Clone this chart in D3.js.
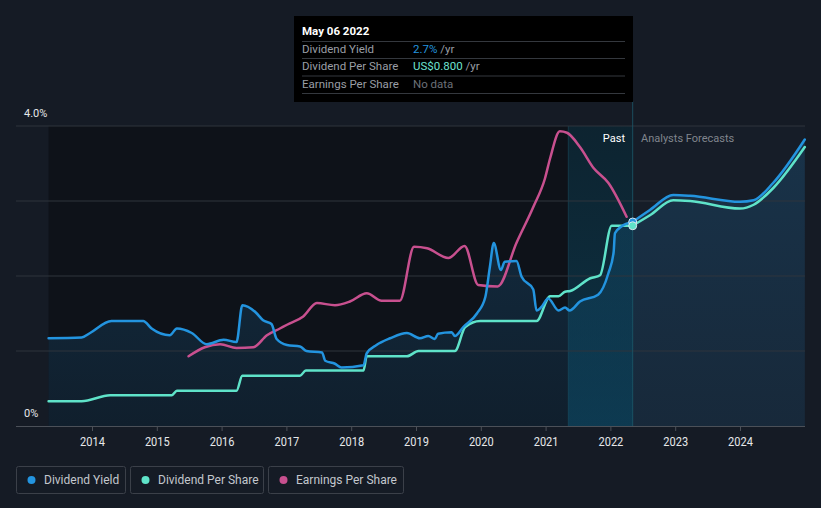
<!DOCTYPE html>
<html>
<head>
<meta charset="utf-8">
<script src="https://cdn.jsdelivr.net/npm/d3@7"></script>
<style>
  html, body { margin: 0; padding: 0; background: #151b25; }
  svg { display: block; font-family: Roboto, "Noto Sans", sans-serif; }
</style>
</head>
<body>
<div id="chart"></div>
<script>
// decimal years, values on the yield axis (%)
const dyYears = [2013.33, 2013.84, 2013.97, 2014.30, 2014.79, 2014.92, 2015.20, 2015.31, 2015.54, 2015.77,
  2016.03, 2016.23, 2016.32, 2016.52, 2016.64, 2016.77, 2016.85, 2017.01, 2017.21, 2017.31,
  2017.55, 2017.60, 2017.75, 2017.85, 2018.19, 2018.24, 2018.39, 2018.60, 2018.86, 2019.06,
  2019.19, 2019.29, 2019.34, 2019.55, 2019.60, 2019.73, 2019.94, 2020.07, 2020.14, 2020.20,
  2020.31, 2020.37, 2020.55, 2020.63, 2020.81, 2020.86, 2020.94, 2021.04, 2021.20, 2021.30,
  2021.37, 2021.53, 2021.81, 2021.97, 2022.05, 2022.07, 2022.17, 2022.34];
const dyValues = [1.17, 1.18, 1.24, 1.40, 1.40, 1.30, 1.21, 1.30, 1.24, 1.09,
  1.15, 1.12, 1.61, 1.52, 1.41, 1.36, 1.16, 1.08, 1.06, 1.00,
  0.98, 0.87, 0.83, 0.78, 0.81, 0.97, 1.08, 1.17, 1.24, 1.17,
  1.20, 1.16, 1.23, 1.25, 1.20, 1.32, 1.50, 1.72, 2.12, 2.44,
  2.08, 2.19, 2.20, 1.99, 1.82, 1.54, 1.59, 1.70, 1.54, 1.58,
  1.54, 1.66, 1.75, 2.04, 2.32, 2.57, 2.66, 2.72];
const dyForecastYears = [2022.34, 2022.61, 2022.97, 2023.23, 2024.00, 2024.21, 2024.51, 2025.00];
const dyForecastValues = [2.72, 2.88, 3.08, 3.07, 2.99, 3.01, 3.24, 3.82];

const dpsYears = [2013.33, 2013.84, 2014.28, 2015.23, 2015.31, 2016.23, 2016.32, 2017.21, 2017.30, 2018.19,
  2018.24, 2018.86, 2019.04, 2019.60, 2019.76, 2019.99, 2020.86, 2021.07, 2021.20, 2021.30,
  2021.38, 2021.69, 2021.84, 2022.02, 2022.30, 2022.34];
const dpsValues = [0.33, 0.33, 0.41, 0.41, 0.47, 0.47, 0.67, 0.67, 0.74, 0.74,
  0.93, 0.93, 1.00, 1.00, 1.32, 1.40, 1.40, 1.73, 1.73, 1.79,
  1.80, 1.97, 2.01, 2.67, 2.67, 2.67];
const dpsForecastYears = [2022.34, 2022.61, 2022.97, 2023.23, 2024.00, 2024.21, 2024.51, 2025.00];
const dpsForecastValues = [2.67, 2.81, 3.01, 3.00, 2.90, 2.95, 3.17, 3.72];

const epsYears = [2015.49, 2015.74, 2015.98, 2016.23, 2016.49, 2016.70, 2016.90, 2017.01, 2017.26, 2017.47,
  2017.75, 2017.98, 2018.24, 2018.47, 2018.75, 2018.97, 2019.17, 2019.50, 2019.75, 2019.96,
  2020.26, 2020.55, 2020.81, 2020.99, 2021.07, 2021.22, 2021.33, 2021.53, 2021.74, 2021.97, 2022.25];
const epsValues = [0.93, 1.05, 1.09, 1.04, 1.05, 1.21, 1.30, 1.35, 1.46, 1.64,
  1.61, 1.66, 1.77, 1.67, 1.67, 2.39, 2.37, 2.24, 2.40, 1.88,
  1.86, 2.44, 2.92, 3.30, 3.57, 3.93, 3.91, 3.72, 3.44, 3.24, 2.79];

const yearTicks = [2014, 2015, 2016, 2017, 2018, 2019, 2020, 2021, 2022, 2023, 2024];
const yTicks = [0, 1, 2, 3, 4];
const pastStart = 2021.35;
const nowYear = 2022.344;

const width = 821, height = 508;
const svg = d3.select("#chart").append("svg").attr("width", width).attr("height", height);

const x = d3.scaleLinear().domain([2014, 2024]).range([92, 740]);
const y = d3.scaleLinear().domain([0, 4]).range([426, 126]);
const x1 = x.invert(805);

const zip = (xs, ys) => xs.map((v, i) => ({ t: v, v: ys[i] }));
const dy = zip(dyYears, dyValues);
const dyF = zip(dyForecastYears, dyForecastValues);
const dps = zip(dpsYears, dpsValues);
const dpsF = zip(dpsForecastYears, dpsForecastValues);
const eps = zip(epsYears, epsValues);

const defs = svg.append("defs");
const pg = defs.append("linearGradient").attr("id", "pastG").attr("x1", 0).attr("y1", 0).attr("x2", 0).attr("y2", 1);
pg.append("stop").attr("offset", "0%").attr("stop-color", "#0b4d66").attr("stop-opacity", 0.3);
pg.append("stop").attr("offset", "100%").attr("stop-color", "#0a5a7c").attr("stop-opacity", 0.45);
const ag = defs.append("linearGradient").attr("id", "areaG").attr("x1", 0).attr("y1", 0).attr("x2", 0).attr("y2", 1);
ag.append("stop").attr("offset", "0%").attr("stop-color", "#2394df").attr("stop-opacity", 0.18);
ag.append("stop").attr("offset", "100%").attr("stop-color", "#2394df").attr("stop-opacity", 0.1);

// backgrounds
svg.append("rect").attr("x", x(dyYears[0])).attr("y", y(4))
  .attr("width", x(nowYear) - x(dyYears[0])).attr("height", y(0) - y(4)).attr("fill", "#0e1219");
svg.append("rect").attr("x", x(nowYear)).attr("y", y(4))
  .attr("width", x(x1) - x(nowYear)).attr("height", y(0) - y(4)).attr("fill", "#161d28");

// area under yield
const area = d3.area().x(d => x(d.t)).y0(y(0)).y1(d => y(d.v)).curve(d3.curveMonotoneX);
svg.append("path").datum(dy).attr("d", area).attr("fill", "url(#areaG)");
svg.append("path").datum(dyF).attr("d", area).attr("fill", "url(#areaG)");

// past band
svg.append("rect").attr("x", x(pastStart)).attr("y", y(4))
  .attr("width", x(nowYear) - x(pastStart)).attr("height", y(0) - y(4)).attr("fill", "url(#pastG)");
svg.append("line").attr("x1", x(pastStart)).attr("x2", x(pastStart)).attr("y1", y(4)).attr("y2", y(0))
  .attr("stroke", "#1b5466").attr("stroke-opacity", 0.5);

// grid
svg.append("g").selectAll("line").data(yTicks.filter(d => d > 0)).join("line")
  .attr("x1", 16).attr("x2", 805).attr("y1", d => y(d)).attr("y2", d => y(d))
  .attr("stroke", "#2f343c").attr("stroke-width", 1);

// x axis
const xAxis = svg.append("g").attr("transform", `translate(0,${y(0)})`)
  .call(d3.axisBottom(x).tickValues(yearTicks).tickFormat(d3.format("d")).tickSize(5).tickSizeOuter(0));
xAxis.select(".domain").attr("d", `M16,0.5H805`).attr("stroke", "#4b5058");
xAxis.selectAll(".tick line").attr("stroke", "#4b5058");
xAxis.selectAll(".tick text").attr("fill", "#e6e8ea").attr("font-size", 12).attr("dy", "0.9em")
  .attr("font-family", "Roboto, sans-serif").attr("transform", "scale(0.92,1.08)")
  .attr("x", 0);

// y labels
svg.append("text").attr("x", 24).attr("y", 117).attr("fill", "#e6e8ea").attr("font-size", 11).text("4.0%");
svg.append("text").attr("x", 24).attr("y", 417).attr("fill", "#e6e8ea").attr("font-size", 11).text("0%");

// lines
const line = d3.line().x(d => x(d.t)).y(d => y(d.v)).curve(d3.curveMonotoneX);
const drawLine = (data, color) => svg.append("path").datum(data).attr("d", line)
  .attr("fill", "none").attr("stroke", color).attr("stroke-width", 2.5)
  .attr("stroke-linejoin", "round").attr("stroke-linecap", "round");
drawLine(eps, "#c8508f");
drawLine(dps, "#5fe3c9");
drawLine(dy, "#2394df");
drawLine(dpsF, "#5fe3c9");
drawLine(dyF, "#2394df");

// now line
svg.append("line").attr("x1", x(nowYear)).attr("x2", x(nowYear)).attr("y1", 101).attr("y2", y(0))
  .attr("stroke", "#1d5a6c").attr("stroke-opacity", 0.8).attr("stroke-width", 1);

// markers
svg.append("circle").attr("cx", x(nowYear)).attr("cy", y(dyValues[dyValues.length - 1])).attr("r", 4)
  .attr("fill", "#2394df").attr("stroke", "#d8e6ef").attr("stroke-width", 1);
svg.append("circle").attr("cx", x(nowYear)).attr("cy", y(dpsValues[dpsValues.length - 1])).attr("r", 4)
  .attr("fill", "#5fe3c9").attr("stroke", "#d8e6ef").attr("stroke-width", 1);

// past / forecast labels
svg.append("text").attr("x", 625).attr("y", 142).attr("text-anchor", "end")
  .attr("fill", "#ffffff").attr("font-size", 11).text("Past");
svg.append("text").attr("x", 641).attr("y", 142)
  .attr("fill", "#80858d").attr("font-size", 11).text("Analysts Forecasts");

// tooltip
const tip = svg.append("g");
tip.append("rect").attr("x", 294).attr("y", 16).attr("width", 339).attr("height", 86).attr("fill", "#000");
tip.append("text").attr("x", 302).attr("y", 35).attr("fill", "#fff").attr("font-size", 11.5)
  .attr("font-weight", "bold").text("May 06 2022");
[41.5, 58.5, 76, 93.5].forEach(v => tip.append("line").attr("x1", 302).attr("x2", 625)
  .attr("y1", v).attr("y2", v).attr("stroke", "#34383e"));
const rows = [
  { label: "Dividend Yield", value: "2.7%", unit: " /yr", color: "#2394df", yy: 53 },
  { label: "Dividend Per Share", value: "US$0.800", unit: " /yr", color: "#6ee3d1", yy: 70 },
  { label: "Earnings Per Share", value: "No data", unit: "", color: "#6c7078", yy: 88 }
];
rows.forEach(r => {
  tip.append("text").attr("x", 302).attr("y", r.yy).attr("fill", "#9a9ea5").attr("font-size", 11.5).text(r.label);
  const t = tip.append("text").attr("x", 413).attr("y", r.yy).attr("font-size", 11.5);
  t.append("tspan").attr("fill", r.color).text(r.value);
  t.append("tspan").attr("fill", "#9a9ea5").text(r.unit);
});

// legend
const legendItems = [
  { label: "Dividend Yield", color: "#2394df", x: 16, w: 109 },
  { label: "Dividend Per Share", color: "#5fe3c9", x: 130, w: 133 },
  { label: "Earnings Per Share", color: "#c8508f", x: 268, w: 135 }
];
const lg = svg.append("g").selectAll("g").data(legendItems).join("g")
  .attr("transform", d => `translate(${d.x},466)`);
lg.append("rect").attr("x", 0.5).attr("y", 0.5).attr("width", d => d.w).attr("height", 27).attr("rx", 2)
  .attr("fill", "none").attr("stroke", "#3b4049");
lg.append("circle").attr("cx", 15.5).attr("cy", 14).attr("r", 4).attr("fill", d => d.color);
lg.append("text").attr("x", 28).attr("y", 18).attr("fill", "#c3c7cd").attr("font-size", 12).text(d => d.label);
</script>
</body>
</html>
